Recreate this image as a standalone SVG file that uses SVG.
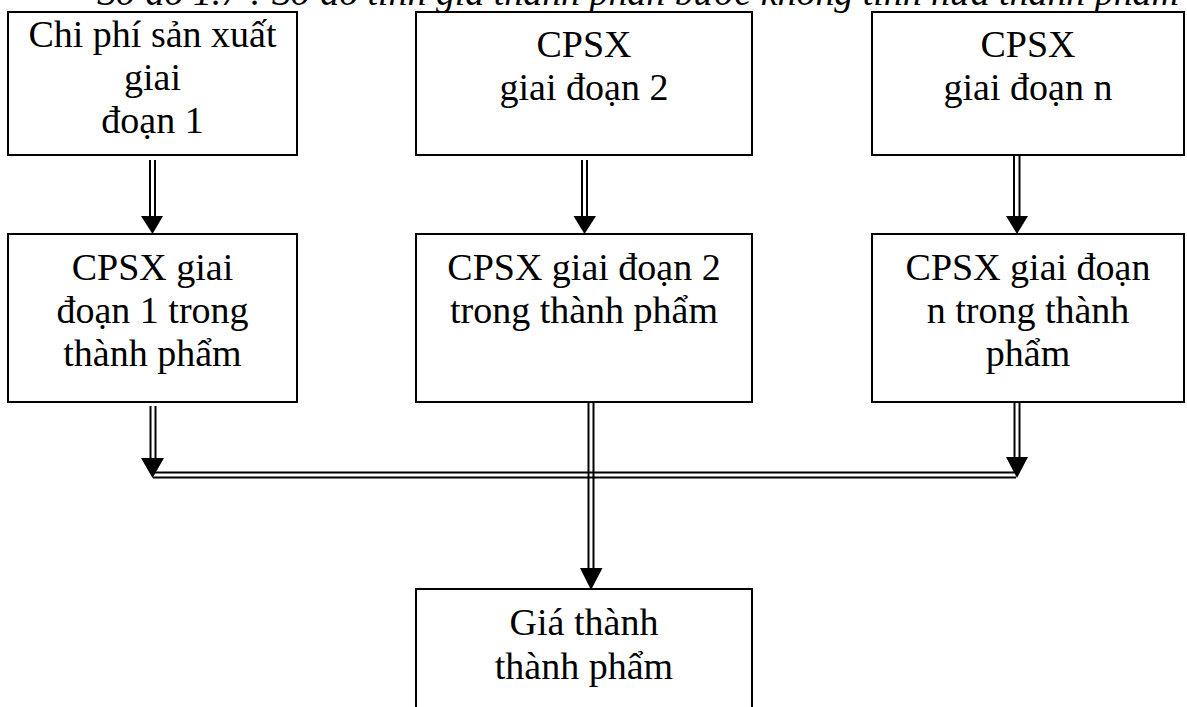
<svg xmlns="http://www.w3.org/2000/svg" width="1187" height="707" viewBox="0 0 1187 707">
<style>
.box{fill:#fff;stroke:#000;stroke-width:2}
.t{font-family:"Liberation Serif","Times New Roman",serif;font-size:38px;fill:#000;text-anchor:middle}
.title{font-family:"Liberation Serif","Times New Roman",serif;font-size:38px;font-style:italic;fill:#000}
.dl{stroke:#000;stroke-width:2;fill:none}
.ah{fill:#000}
</style>
<rect width="1187" height="707" fill="#fff"/>
<text class="title" x="97" y="5" textLength="1082" lengthAdjust="spacing">Sơ đồ 1.7 : Sơ đồ tính giá thành  phân bước không tính nửa thành phẩm</text>
<g id="connectors">
  <line class="dl" x1="150" y1="160" x2="150" y2="218"/>
  <line class="dl" x1="155" y1="160" x2="155" y2="218"/>
  <polygon class="ah" points="141,216 163,216 152.5,234"/>
  <line class="dl" x1="582" y1="160" x2="582" y2="218"/>
  <line class="dl" x1="587" y1="160" x2="587" y2="218"/>
  <polygon class="ah" points="573.5,216 596,216 584.5,234"/>
  <line class="dl" x1="1014" y1="153" x2="1014" y2="218"/>
  <line class="dl" x1="1019.5" y1="153" x2="1019.5" y2="218"/>
  <polygon class="ah" points="1006,216 1028,216 1017,234"/>
  <line class="dl" x1="150.5" y1="406" x2="150.5" y2="460"/>
  <line class="dl" x1="155.5" y1="406" x2="155.5" y2="460"/>
  <polygon class="ah" points="141,458 164,458 152.5,478"/>
  <line class="dl" x1="1014.5" y1="400" x2="1014.5" y2="460"/>
  <line class="dl" x1="1019.5" y1="400" x2="1019.5" y2="460"/>
  <polygon class="ah" points="1006,457 1028,457 1017,478"/>
  <line class="dl" x1="153" y1="472.5" x2="1016" y2="472.5"/>
  <line class="dl" x1="153" y1="477.5" x2="1016" y2="477.5"/>
  <line class="dl" x1="588.5" y1="398" x2="588.5" y2="570"/>
  <line class="dl" x1="593.5" y1="398" x2="593.5" y2="570"/>
  <polygon class="ah" points="580,568 602.5,568 591,590"/>
</g>
<g id="n1">
  <rect class="box" x="8" y="12" width="289" height="143"/>
  <text class="t" x="152.5" y="47">Chi phí sản xuất</text>
  <text class="t" x="152.5" y="90">giai</text>
  <text class="t" x="152.5" y="133">đoạn 1</text>
</g>
<g id="n2">
  <rect class="box" x="416" y="12" width="336" height="143"/>
  <text class="t" x="584" y="57">CPSX</text>
  <text class="t" x="584" y="100">giai đoạn 2</text>
</g>
<g id="n3">
  <rect class="box" x="872" y="12" width="312" height="143"/>
  <text class="t" x="1028" y="57">CPSX</text>
  <text class="t" x="1028" y="100">giai đoạn n</text>
</g>
<g id="n4">
  <rect class="box" x="8" y="234" width="289" height="168"/>
  <text class="t" x="152.5" y="280">CPSX giai</text>
  <text class="t" x="152.5" y="323">đoạn 1 trong</text>
  <text class="t" x="152.5" y="366">thành phẩm</text>
</g>
<g id="n5">
  <rect class="box" x="416" y="234" width="336" height="168"/>
  <text class="t" x="584" y="280">CPSX giai đoạn 2</text>
  <text class="t" x="584" y="323">trong thành phẩm</text>
</g>
<g id="n6">
  <rect class="box" x="872" y="234" width="312" height="168"/>
  <text class="t" x="1028" y="280">CPSX giai đoạn</text>
  <text class="t" x="1028" y="323">n trong thành</text>
  <text class="t" x="1028" y="366">phẩm</text>
</g>
<g id="n7">
  <rect class="box" x="416" y="589" width="336" height="160"/>
  <text class="t" x="584" y="635">Giá thành</text>
  <text class="t" x="584" y="679">thành phẩm</text>
</g>
</svg>
